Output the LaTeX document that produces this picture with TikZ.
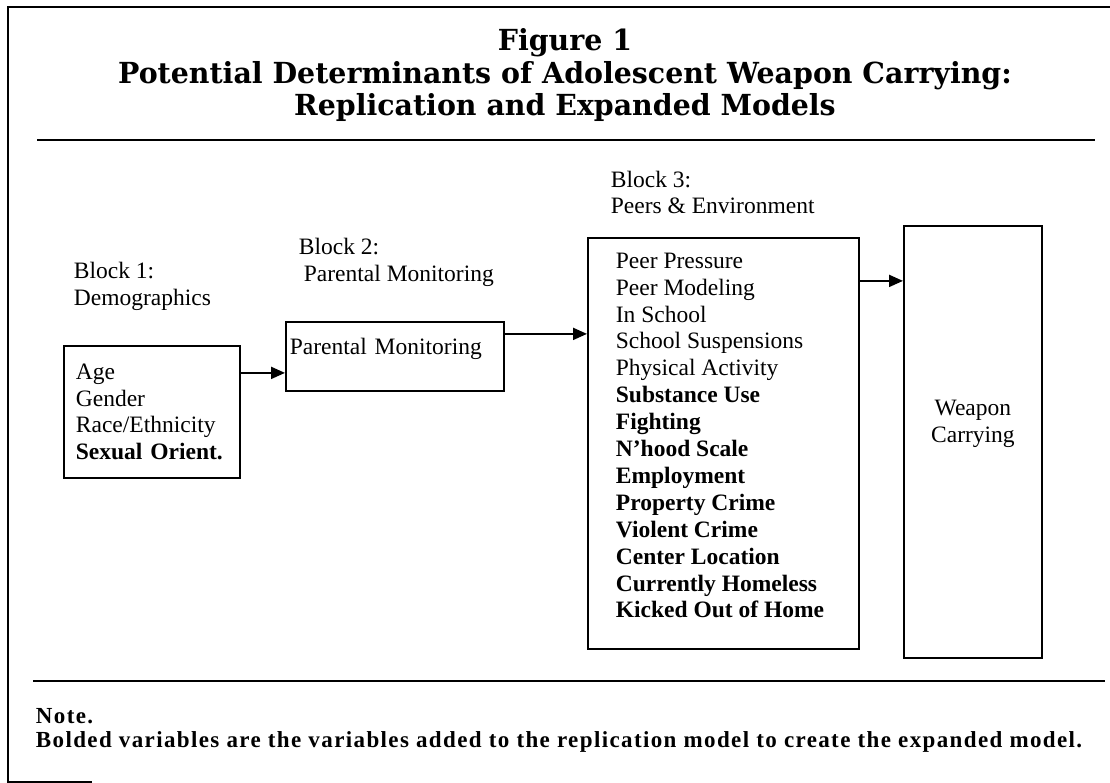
\documentclass[tikz,border=0pt]{standalone}
\usepackage{fontspec}
\setmainfont{Liberation Serif}
\newfontfamily\wctitlefont{DejaVu Serif}[FakeStretch=0.98]
\newfontfamily\wcnotefont{Liberation Serif}[LetterSpace=6]
\usetikzlibrary{arrows.meta}
\newcommand\wcfont{\fontsize{23.5bp}{26.9bp}\selectfont}
\tikzset{every picture/.style={line width=1.8bp}}
\tikzset{
  wcbox/.style  ={rectangle, draw=black, line width=1.8bp, anchor=north west,
                  align=left, inner ysep=0pt, font=\wcfont},
  wclabel/.style={anchor=west, inner sep=0pt, align=left, font=\wcfont},
  wcedge/.style ={-{Triangle[length=14bp,width=12bp]}, line width=2bp},
  wcrule/.style ={line width=2bp},
}

\begin{document}
\begin{tikzpicture}[x=1bp, y=-1bp]
        \useasboundingbox (0,0) rectangle (1110,783);
        \draw[line width=2.5bp] (1110,7) -- (8,7) -- (8,782) -- (92,782);
        \node[font=\wctitlefont\bfseries\fontsize{29bp}{32.5bp}\selectfont, align=center] (title) at (565,75)
          {Figure 1\\Potential Determinants of Adolescent Weapon Carrying:\\Replication and Expanded Models};
        \draw[wcrule] (37,140) -- (1095,140);
        \node[wclabel] (lab1) at (73,286.5) {Block 1:\\Demographics};
        \node[wclabel] (lab2) at (298,262.5) {Block 2:\\\hspace*{5bp}Parental Monitoring};
        \node[wclabel] (lab3) at (610,192.5) {Block 3:\\Peers \& Environment};
        \node[wcbox, minimum width=176bp, minimum height=132bp, inner xsep=12bp, text width=152bp] (b1) at (63,345)
          {Age\\Gender\\Race/Ethnicity\\\textbf{Sexual Orient.}};
        \node[wcbox, minimum width=218bp, minimum height=69bp, inner xsep=4bp, text width=210bp,
              text height=16bp, text depth=19bp] (b2) at (285,321)
          {Parental Monitoring};
        \node[wcbox, minimum width=271bp, minimum height=411bp] (b3) at (587,237) {};
        \node[wclabel, anchor=north west] (b3list) at ([xshift=28bp, yshift=-15bp]b3.north west)
          {Peer Pressure\\Peer Modeling\\In School\\School Suspensions\\Physical Activity\\
           \textbf{Substance Use}\\\textbf{Fighting}\\\textbf{N'hood Scale}\\\textbf{Employment}\\
           \textbf{Property Crime}\\\textbf{Violent Crime}\\\textbf{Center Location}\\
           \textbf{Currently Homeless}\\\textbf{Kicked Out of Home}};
        \node[wcbox, minimum width=138bp, minimum height=432bp] (wc) at (903,225) {};
        \node[wclabel, anchor=center, align=center] (wctext) at ([yshift=18.5bp]wc.center) {Weapon\\Carrying};
        \draw[wcedge] ([yshift=39bp]b1.east) -- ([yshift=39bp]b1.east -| b2.west);
        \draw[wcedge] ([yshift=22.5bp]b2.east) -- ([yshift=22.5bp]b2.east -| b3.west);
        \draw[wcedge] ([yshift=162.5bp]b3.east) -- ([yshift=162.5bp]b3.east -| wc.west);
        \draw[wcrule] (33,681) -- (1105,681);
        \node[wclabel, font=\wcnotefont\bfseries\fontsize{23bp}{24bp}\selectfont] (note) at (35,730)
          {Note.\\Bolded variables are the variables added to the replication model to create the expanded model.};
    \end{tikzpicture}
\end{document}
